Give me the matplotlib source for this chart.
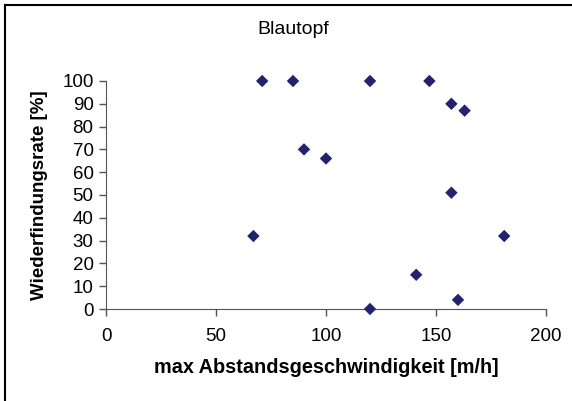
import numpy as np
import matplotlib
matplotlib.use("Agg")
import matplotlib.pyplot as plt
from matplotlib.lines import Line2D

plt.rcParams['font.family'] = ['Liberation Sans', 'DejaVu Sans']

# max Abstandsgeschwindigkeit [m/h] vs Wiederfindungsrate [%]
speed = [71, 85, 120, 147, 157, 163, 90, 100, 157, 67, 181, 141, 160, 120]
rate = [100, 100, 100, 100, 90, 87, 70, 66, 51, 32, 32, 15, 4, 0]

xticks = [0, 50, 100, 150, 200]
yticks = list(range(0, 101, 10))

fig = plt.figure(figsize=(5.72, 4.01), dpi=100)
ax = fig.add_axes([106/572, 1-309/401, 440/572, 228/401])

ax.scatter(speed, rate, marker='D', s=40, color='#22226e', edgecolors='none',
           zorder=3, clip_on=False)

ax.set_xlim(0, 200)
ax.set_ylim(0, 100)
ax.set_xticks(xticks)
ax.set_yticks(yticks)
ax.tick_params(direction='out', length=5, width=1, color='#555555',
               labelsize=13.5, pad=4)
ax.tick_params(axis='x', pad=9)
for s in ['top', 'right']:
    ax.spines[s].set_visible(False)
for s in ['left', 'bottom']:
    ax.spines[s].set_color('#555555')

# title centred over the chart area, not the plot
fig.text(293/572, 1-30/401, 'Blautopf', fontsize=14, ha='center', va='center')
ax.set_xlabel('max Abstandsgeschwindigkeit [m/h]', fontsize=14.3, fontweight='bold', labelpad=9)
ax.set_ylabel('Wiederfindungsrate [%]', fontsize=13.5, fontweight='bold', labelpad=10)

# chart border (left and top visible)
fig.add_artist(Line2D([4.5/572, 4.5/572], [0, 1-4.5/401], color='black', lw=1.5,
                      transform=fig.transFigure))
fig.add_artist(Line2D([4.5/572, 1], [1-4.5/401, 1-4.5/401], color='black', lw=1.5,
                      transform=fig.transFigure))

fig.savefig('out.png', dpi=100)
